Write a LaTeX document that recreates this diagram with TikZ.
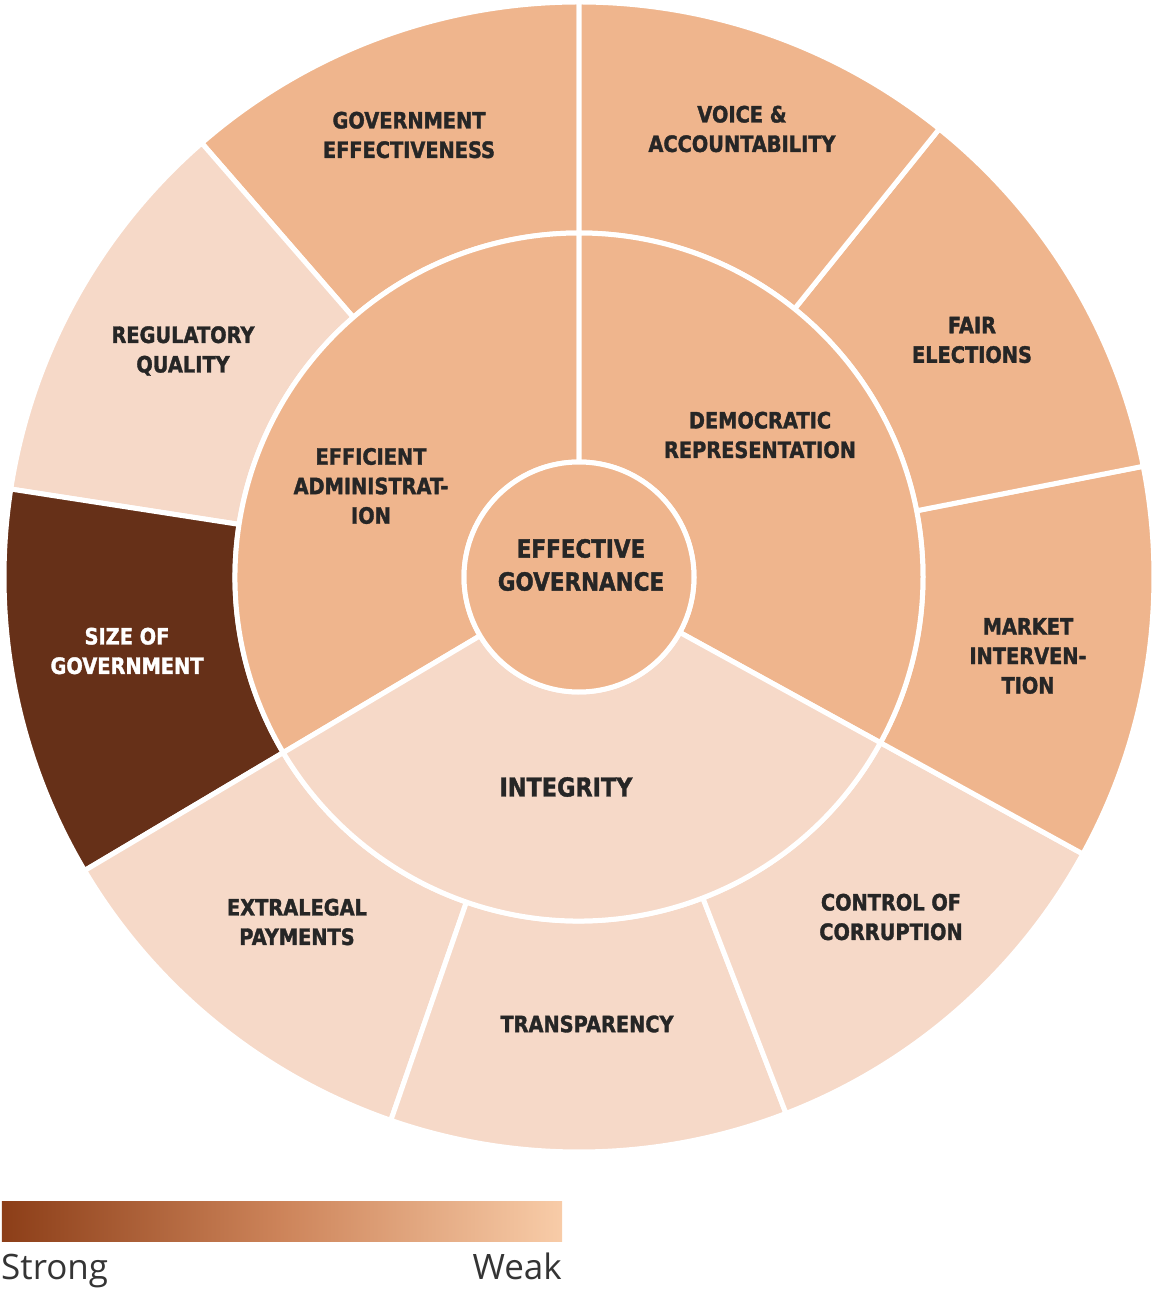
\documentclass[tikz,border=0pt]{standalone}
\usepackage{fontspec}
\newfontfamily\labfont[FakeStretch=0.86, FakeBold=1.5]{DejaVu Sans Bold}
\newfontfamily\legfont{Open Sans}
\definecolor{midpeach}{RGB}{239,181,141}
\definecolor{lightpeach}{RGB}{246,217,200}
\definecolor{darkbrown}{RGB}{102,48,24}
\definecolor{labtext}{RGB}{38,38,38}
\definecolor{legtext}{RGB}{52,52,52}
\definecolor{gradL}{RGB}{140,62,24}
\definecolor{gradM}{RGB}{205,132,90}
\definecolor{gradR}{RGB}{248,204,168}
\newcommand\mysector[5]{\filldraw[segment, fill=#1] (#2:#4) arc[start angle=#2, end angle=#3, radius=#4] -- (#3:#5) arc[start angle=#3, end angle=#2, radius=#5] -- cycle;}
\begin{document}
\begin{tikzpicture}[x=1pt, y=1pt,
  segment/.style={draw=white, line width=5pt, line join=round},
  lab/.style={font=\labfont\fontsize{22.5}{29.5}\selectfont, text=labtext, align=center, inner sep=0pt},
  biglab/.style={font=\labfont\fontsize{25}{33}\selectfont, text=labtext, align=center, inner sep=0pt},
  legend/.style={font=\legfont\fontsize{35}{42}\selectfont, text=legtext, inner sep=0pt}]
\useasboundingbox (-579,-712) rectangle (574,577);
% outer ring
\mysector{midpeach}{90}{131}{344}{575}
\mysector{lightpeach}{131}{171.2}{344}{575}
\mysector{darkbrown}{171.2}{210.7}{344}{575}
\mysector{lightpeach}{210.7}{250.9}{344}{575}
\mysector{lightpeach}{250.9}{291.1}{344}{575}
\mysector{lightpeach}{291.1}{331.2}{344}{575}
\mysector{midpeach}{-28.8}{11.1}{344}{575}
\mysector{midpeach}{11.1}{51.2}{344}{575}
\mysector{midpeach}{51.2}{90}{344}{575}
% middle ring
\mysector{midpeach}{90}{210.7}{115}{344}
\mysector{midpeach}{-28.8}{90}{115}{344}
\mysector{lightpeach}{210.7}{331.2}{115}{344}
% centre
\filldraw[segment, fill=midpeach] (0,0) circle[radius=115];
\node[biglab] (center) at (2,12) {EFFECTIVE\\GOVERNANCE};
% middle labels
\node[lab] (effadmin) at (-208,91) {EFFICIENT\\ADMINISTRAT-\\ION};
\node[lab] (demrep) at (181,142) {DEMOCRATIC\\REPRESENTATION};
\node[biglab, font=\labfont\fontsize{26}{33}\selectfont] (integrity) at (-13,-210) {INTEGRITY};
% outer labels
\node[lab] (goveff) at (-170,442) {GOVERNMENT\\EFFECTIVENESS};
\node[lab] (voice) at (163,448) {VOICE \&\\ACCOUNTABILITY};
\node[lab] (fair) at (393,237) {FAIR\\ELECTIONS};
\node[lab] (market) at (449,-79) {MARKET\\INTERVEN-\\TION};
\node[lab] (control) at (312,-340) {CONTROL OF\\CORRUPTION};
\node[lab] (transp) at (8,-447) {TRANSPARENCY};
\node[lab] (extra) at (-282,-345) {EXTRALEGAL\\PAYMENTS};
\node[lab, text=white] (size) at (-452,-74) {SIZE OF\\GOVERNMENT};
\node[lab] (regq) at (-396,226) {REGULATORY\\QUALITY};
% legend
\shade[left color=gradL, right color=gradR, middle color=gradM] (-577,-624) rectangle (-17,-664);
\node[legend, anchor=base west] (strong) at (-578,-702) {Strong};
\node[legend, anchor=base east] (weak) at (-17,-702) {Weak};
\end{tikzpicture}
\end{document}
